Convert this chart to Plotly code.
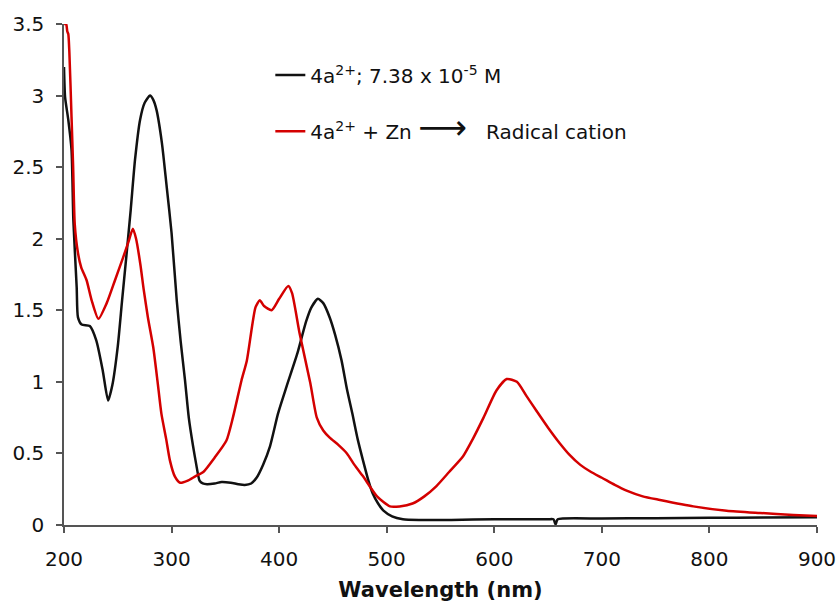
import plotly.graph_objects as go

# Black trace: 4a2+ ; 7.38 x 10^-5 M
black_x = [200, 201, 204, 207, 208.7, 211.8, 213, 216.4, 224, 230, 236, 241, 245, 250, 254, 258, 262, 266,
           270.7, 275, 280, 283, 286, 291, 295.5, 300, 304.8, 308.5, 312.5, 316, 320, 323, 326, 329, 333,
           340, 346.6, 355, 362, 368, 374, 379, 385, 391.5, 399, 407, 417, 425, 430, 436, 441, 447, 452,
           458, 463, 468, 473, 478, 483, 487, 492, 497, 505, 515, 530, 560, 600, 650, 655, 657, 659, 700,
           750, 800, 850, 900]
black_y = [3.2, 2.99, 2.83, 2.62, 2.13, 1.66, 1.45, 1.40, 1.39, 1.29, 1.08, 0.87, 0.98, 1.25, 1.57, 1.88, 2.2, 2.55,
           2.83, 2.95, 3.0, 2.97, 2.9, 2.67, 2.36, 2.04, 1.57, 1.28, 1.01, 0.75, 0.55, 0.42, 0.31, 0.29, 0.285,
           0.29, 0.30, 0.295, 0.285, 0.28, 0.29, 0.33, 0.42, 0.55, 0.78, 0.97, 1.2, 1.42, 1.52, 1.58, 1.55, 1.45, 1.33,
           1.15, 0.95, 0.78, 0.6, 0.45, 0.31, 0.22, 0.15, 0.10, 0.06, 0.04, 0.035, 0.035, 0.04, 0.04, 0.04, 0.005, 0.04, 0.045,
           0.048, 0.05, 0.052, 0.055]

# Red trace: 4a2+ + Zn -> radical cation
red_x = [200, 202, 203, 204, 205, 207, 208.5, 210, 213, 216, 221, 225.7, 232, 239.7, 247.4, 255, 260, 264,
         267, 271, 274, 278, 283, 287, 290.5, 295, 298.5, 303, 308, 315, 322, 329.5, 340, 351, 357, 365,
         370, 378, 382, 386, 393, 400, 408.5, 412, 419, 429, 435, 441, 447, 455, 463, 470, 478, 491, 503,
         512, 524, 535, 546, 558, 571, 580, 590, 602, 611.5, 621, 630, 639, 650, 661, 670, 680, 690, 700,
         712, 723, 738, 754, 785, 816, 847, 878, 900]
red_y = [3.5, 3.5, 3.45, 3.43, 3.3, 2.85, 2.5, 2.1, 1.9, 1.8, 1.71, 1.57, 1.44, 1.55, 1.71, 1.87, 1.98, 2.07,
         2.0, 1.82, 1.65, 1.45, 1.24, 1.0, 0.78, 0.6, 0.45, 0.34, 0.295, 0.31, 0.34, 0.37, 0.47, 0.59, 0.75, 1.01,
         1.15, 1.52, 1.57, 1.53, 1.50, 1.58, 1.67, 1.62, 1.34, 0.99, 0.75, 0.66, 0.61, 0.56, 0.50, 0.42, 0.34, 0.20, 0.13,
         0.13, 0.15, 0.2, 0.27, 0.37, 0.48, 0.6, 0.75, 0.94, 1.02, 1.0, 0.9, 0.80, 0.68, 0.57, 0.49, 0.42, 0.37, 0.33,
         0.28, 0.24, 0.2, 0.175, 0.13, 0.10, 0.084, 0.07, 0.063]

x_ticks = [200, 300, 400, 500, 600, 700, 800, 900]
y_ticks = [0, 0.5, 1, 1.5, 2, 2.5, 3, 3.5]
y_tick_text = ["0", "0.5", "1", "1.5", "2", "2.5", "3", "3.5"]

FONT = "DejaVu Sans, Verdana, sans-serif"

fig = go.Figure()
fig.add_trace(go.Scatter(
    x=black_x, y=black_y, mode="lines",
    line=dict(color="#111111", width=2.5, shape="spline", smoothing=0.6),
    name="4a<sup>2+</sup>; 7.38 x 10<sup>-5</sup> M", legend="legend"))
fig.add_trace(go.Scatter(
    x=red_x, y=red_y, mode="lines",
    line=dict(color="#d40000", width=2.5, shape="spline", smoothing=0.6),
    name="4a<sup>2+</sup> + Zn <span style='font-size:34px'>⟶</span>   Radical cation", legend="legend2"))

legend_common = dict(bgcolor="rgba(0,0,0,0)", borderwidth=0, itemwidth=30,
                     font=dict(family=FONT, size=20, color="#111111"),
                     xanchor="left", yanchor="middle", itemclick=False)

fig.update_layout(
    width=839, height=602,
    margin=dict(l=64, r=22, t=24, b=77),
    plot_bgcolor="white", paper_bgcolor="white",
    showlegend=True,
    legend=dict(x=0.274, y=0.898, **legend_common),
    legend2=dict(x=0.274, y=0.786, **legend_common),
    xaxis=dict(range=[200, 900], tickvals=x_ticks, showgrid=False, zeroline=False, automargin=False,
               showline=True, linecolor="#555555", linewidth=1.5,
               ticks="outside", ticklen=6, tickcolor="#555555", tickwidth=1.5,
               ticklabelstandoff=9,
               tickfont=dict(family=FONT, size=20, color="#111111"),
               title=dict(text="<b>Wavelength (nm)</b>", font=dict(family=FONT, size=21, color="#111111"),
                          standoff=14)),
    yaxis=dict(range=[0, 3.5], tickvals=y_ticks, ticktext=y_tick_text, showgrid=False, zeroline=False,
               automargin=False,
               showline=True, linecolor="#555555", linewidth=1.5,
               ticks="outside", ticklen=6, tickcolor="#555555", tickwidth=1.5,
               ticklabelstandoff=8,
               tickfont=dict(family=FONT, size=20, color="#111111")),
)

fig.write_html("out.html", config={"displayModeBar": False},
               post_script="document.body.style.margin='0';")
